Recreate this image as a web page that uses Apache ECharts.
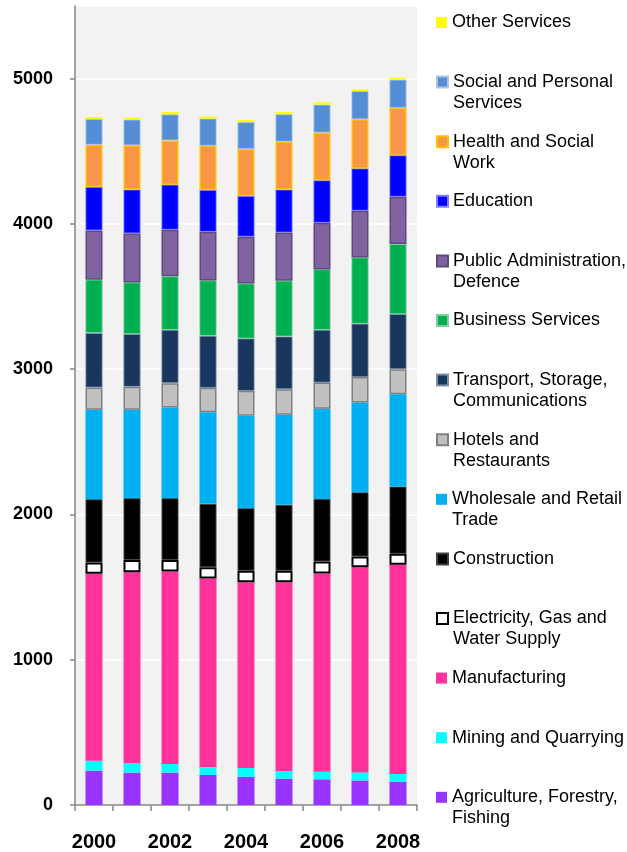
<!DOCTYPE html>
<html>
<head>
<meta charset="utf-8">
<script src="https://cdn.jsdelivr.net/npm/echarts@6/dist/echarts.min.js"></script>
<style>
  html, body { margin: 0; padding: 0; background: #ffffff; }
  #chart { width: 627px; height: 852px; }
</style>
</head>
<body>
<div id="chart"></div>
<script>
// Employment by industry, stacked by year
const years = ['2000', '2001', '2002', '2003', '2004', '2005', '2006', '2007', '2008'];
const yTicks = [0, 1000, 2000, 3000, 4000, 5000];

const agriculture   = [236, 223, 223, 207, 195, 181, 177, 169, 161];
const mining        = [69, 64, 59, 52, 60, 53, 52, 55, 52];
const manufacturing = [1286, 1315, 1325, 1300, 1279, 1300, 1365, 1412, 1440];
const electricity   = [78, 85, 80, 77, 78, 78, 82, 74, 76];
const construction  = [436, 425, 425, 437, 431, 454, 431, 442, 463];
const wholesale     = [615, 608, 624, 630, 636, 620, 620, 619, 636];
const hotels        = [154, 159, 168, 169, 172, 176, 181, 175, 172];
const transport     = [375, 363, 367, 358, 360, 363, 363, 367, 379];
const business      = [367, 355, 368, 381, 379, 384, 416, 456, 482];
const publicAdmin   = [339, 338, 321, 335, 322, 332, 321, 322, 326];
const education     = [299, 301, 310, 287, 280, 295, 292, 291, 285];
const health        = [291, 305, 305, 305, 323, 330, 328, 338, 326];
const social        = [177, 177, 179, 187, 186, 189, 193, 194, 195];
const other         = [14, 13, 16, 13, 14, 15, 16, 12, 14];

// Series in stacking order (bottom to top)
const seriesDefs = [
  { name: 'Agriculture, Forestry, Fishing', label: 'Agriculture, Forestry,\nFishing', data: agriculture, color: '#9933FF' },
  { name: 'Mining and Quarrying', label: 'Mining and Quarrying', data: mining, color: '#00FFFF' },
  { name: 'Manufacturing', label: 'Manufacturing', data: manufacturing, color: '#FF3399' },
  { name: 'Electricity, Gas and Water Supply', label: 'Electricity, Gas and\nWater Supply', data: electricity, color: '#FFFFFF', border: '#000000', bw: 2 },
  { name: 'Construction', label: 'Construction', data: construction, color: '#000000', border: '#404040', bw: 1 },
  { name: 'Wholesale and Retail Trade', label: 'Wholesale and Retail\nTrade', data: wholesale, color: '#00B0F0' },
  { name: 'Hotels and Restaurants', label: 'Hotels and\nRestaurants', data: hotels, color: '#C0C0C0', border: '#808080', bw: 1.5 },
  { name: 'Transport, Storage, Communications', label: 'Transport, Storage,\nCommunications', data: transport, color: '#17375E', border: '#7F8FA6', bw: 0.8 },
  { name: 'Business Services', label: 'Business Services', data: business, color: '#00B050', border: '#7FCFA0', bw: 0.8 },
  { name: 'Public Administration, Defence', label: 'Public Administration,\nDefence', data: publicAdmin, color: '#8064A2', border: '#5F497A', bw: 1.5 },
  { name: 'Education', label: 'Education', data: education, color: '#0000FF', border: '#7F7FFF', bw: 0.8 },
  { name: 'Health and Social Work', label: 'Health and Social\nWork', data: health, color: '#F79646', border: '#FFC000', bw: 1.5 },
  { name: 'Social and Personal Services', label: 'Social and Personal\nServices', data: social, color: '#558ED5', border: '#A9C6EA', bw: 0.8 },
  { name: 'Other Services', label: 'Other Services', data: other, color: '#FFFF00' }
];

const FONT = '"Liberation Sans", Arial, Helvetica, sans-serif';
const LINE_H = 21;

const series = seriesDefs.map(d => ({
  name: d.name,
  type: 'bar',
  stack: 'total',
  barWidth: 17,
  data: d.data,
  itemStyle: {
    color: d.color,
    borderColor: d.border || d.color,
    borderWidth: d.bw || 0
  },
  emphasis: { disabled: true }
}));

// Legend column on the right, top entry first, evenly spaced.
// Two-line entries get a blank leading line so the swatch sits beside the first line.
const legendOrder = seriesDefs.slice().reverse();
const legends = legendOrder.map((d, i) => {
  const center = 22.5 + 59.6 * i;
  const twoLine = d.label.indexOf('\n') >= 0;
  const text = twoLine ? ' \n' + d.label : d.label;
  return {
    data: [d.name],
    left: 436,
    top: twoLine ? center - 31.5 : center - 10.5,
    padding: 0,
    itemWidth: 11,
    itemHeight: 11,
    icon: 'rect',
    selectedMode: false,
    formatter: () => text,
    textStyle: {
      fontFamily: FONT,
      fontSize: 18,
      color: '#000000',
      lineHeight: LINE_H
    }
  };
});

const chart = echarts.init(document.getElementById('chart'), null, { renderer: 'canvas' });
chart.setOption({
  animation: false,
  backgroundColor: '#ffffff',
  grid: {
    left: 75, right: 210, top: 6, bottom: 47,
    show: true, backgroundColor: '#F2F2F2', borderWidth: 0
  },
  legend: legends,
  xAxis: {
    type: 'category',
    data: years,
    axisLine: { lineStyle: { color: '#868686', width: 1.5 } },
    axisTick: { show: true, interval: 0, length: 6, lineStyle: { color: '#868686', width: 1.5 } },
    axisLabel: {
      interval: 1,
      margin: 27,
      fontFamily: FONT, fontSize: 20, fontWeight: 'bold', color: '#000000'
    },
    splitLine: { show: false }
  },
  yAxis: {
    type: 'value',
    min: yTicks[0],
    max: 5500,
    interval: 1000,
    axisLine: { show: true, lineStyle: { color: '#868686', width: 1.5 } },
    axisTick: { show: true, length: 5, lineStyle: { color: '#868686', width: 1.5 } },
    axisLabel: {
      showMaxLabel: false,
      margin: 22,
      fontFamily: FONT, fontSize: 18, fontWeight: 'bold', color: '#000000',
      formatter: v => (yTicks.indexOf(v) >= 0 ? String(v) : '')
    },
    splitLine: { show: true, lineStyle: { color: '#FFFFFF', width: 1.5 } }
  },
  series: series
});
</script>
</body>
</html>
